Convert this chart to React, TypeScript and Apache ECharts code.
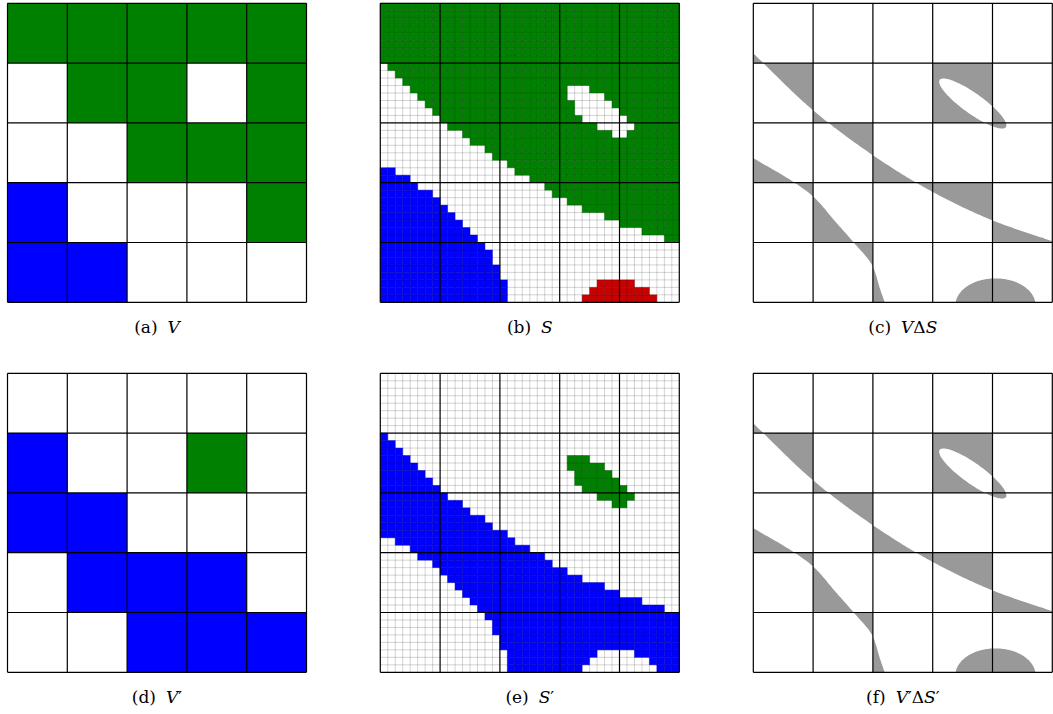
import { useEffect, useRef } from "react";
import * as echarts from "echarts";

// ---------- data ----------
// coarse 5x5 classification V (g green, w white, h hole cell, b blue)
const coarseRows = ["ggggg", "wgghg", "wwggg", "bwwwg", "bbwww"];

// fine 40x40 classification S (read row by row)
const greenStartByRow = [
  0, 0, 0, 0, 0, 0, 0, 0, 1, 2, 3, 4, 5, 6, 7, 8, 9, 11, 12, 14,
  15, 17, 18, 20, 22, 23, 25, 27, 30, 32, 35, 38, 40, 40, 40, 40, 40, 40, 40, 40,
];
const blueEndByRow = [
  0, 0, 0, 0, 0, 0, 0, 0, 0, 0, 0, 0, 0, 0, 0, 0, 0, 0, 0, 0,
  0, 0, 2, 4, 5, 7, 8, 9, 10, 11, 12, 13, 14, 15, 15, 16, 16, 17, 17, 17,
];
// [row, firstCol, lastCol]
const holeRuns = [
  [11, 25, 27], [12, 25, 29], [13, 26, 30], [14, 26, 31], [15, 27, 32], [16, 29, 33], [17, 31, 32],
];
const redRuns = [
  [37, 29, 33], [38, 28, 35], [39, 27, 36],
];

// continuous shapes (in coarse-cell units, u right, v down)
const greenEdge = [[0, 0.838], [1, 1.79], [2, 2.54], [3, 3.155], [4, 3.63], [5, 3.978]];
const blueEdge = [[0, 2.59], [0.675, 2.99], [1.0, 3.23], [1.371, 3.65], [1.679, 4.0], [1.997, 4.4], [2.124, 4.79], [2.197, 5.0]];
const holeShape = { cx: 3.67, cy: 1.676, rx: 0.68, ry: 0.17, deg: 35.5 };
const redShape = { cx: 4.05, cy: 5.05, rx: 0.67, ry: 0.45, deg: 0 };

const mapA: Record<string, string> = { g: "#008000", w: "#ffffff", h: "#ffffff", b: "#0000ff", r: "#c80000" };
const mapB: Record<string, string> = { g: "#ffffff", w: "#0000ff", h: "#008000", b: "#ffffff", r: "#ffffff" };
const GRAY = "#999999";

const panelLabels = [
  "(a){f|V}",
  "(b){f|S}",
  "(c){f|V}Δ{i|S}",
  "(d){f|V}′",
  "(e){f|S}′",
  "(f){f|V}′Δ{i|S}′",
];

// ---------- helpers ----------
type P = [number, number];

function monotone(xs: number[], ys: number[]) {
  const n = xs.length;
  const h: number[] = [], d: number[] = [], m: number[] = [];
  for (let i = 0; i < n - 1; i++) {
    h[i] = xs[i + 1] - xs[i];
    d[i] = (ys[i + 1] - ys[i]) / h[i];
  }
  m[0] = d[0];
  m[n - 1] = d[n - 2];
  for (let i = 1; i < n - 1; i++) {
    if (d[i - 1] * d[i] <= 0) m[i] = 0;
    else {
      const w1 = 2 * h[i] + h[i - 1], w2 = h[i] + 2 * h[i - 1];
      m[i] = (w1 + w2) / (w1 / d[i - 1] + w2 / d[i]);
    }
  }
  return (x: number) => {
    let i = 0;
    while (i < n - 2 && x > xs[i + 1]) i++;
    const t = (x - xs[i]) / h[i];
    const t2 = t * t, t3 = t2 * t;
    return (2 * t3 - 3 * t2 + 1) * ys[i] + (t3 - 2 * t2 + t) * h[i] * m[i] +
      (-2 * t3 + 3 * t2) * ys[i + 1] + (t3 - t2) * h[i] * m[i + 1];
  };
}

function ellipsePoly(e: { cx: number; cy: number; rx: number; ry: number; deg: number }): P[] {
  const th = (e.deg * Math.PI) / 180;
  const out: P[] = [];
  for (let k = 0; k < 160; k++) {
    const t = (k / 160) * Math.PI * 2;
    const a = e.rx * Math.cos(t), b = e.ry * Math.sin(t);
    out.push([e.cx + a * Math.cos(th) - b * Math.sin(th), e.cy + a * Math.sin(th) + b * Math.cos(th)]);
  }
  return out;
}

function clipRect(poly: P[], x0: number, y0: number, x1: number, y1: number): P[] {
  const clips: [(p: P) => boolean, (a: P, b: P) => P][] = [
    [(p) => p[0] >= x0, (a, b) => { const t = (x0 - a[0]) / (b[0] - a[0]); return [x0, a[1] + t * (b[1] - a[1])]; }],
    [(p) => p[0] <= x1, (a, b) => { const t = (x1 - a[0]) / (b[0] - a[0]); return [x1, a[1] + t * (b[1] - a[1])]; }],
    [(p) => p[1] >= y0, (a, b) => { const t = (y0 - a[1]) / (b[1] - a[1]); return [a[0] + t * (b[0] - a[0]), y0]; }],
    [(p) => p[1] <= y1, (a, b) => { const t = (y1 - a[1]) / (b[1] - a[1]); return [a[0] + t * (b[0] - a[0]), y1]; }],
  ];
  let out = poly;
  for (const [inside, inter] of clips) {
    const input = out;
    out = [];
    if (!input.length) break;
    for (let i = 0; i < input.length; i++) {
      const cur = input[i], prev = input[(i + input.length - 1) % input.length];
      const ci = inside(cur), pi = inside(prev);
      if (ci) {
        if (!pi) out.push(inter(prev, cur));
        out.push(cur);
      } else if (pi) out.push(inter(prev, cur));
    }
  }
  return out;
}

// ---------- derived structures ----------
const FINE = 40;
const fineLabels: string[][] = [];
for (let r = 0; r < FINE; r++) {
  const row: string[] = [];
  for (let c = 0; c < FINE; c++) {
    let l = "w";
    if (c >= greenStartByRow[r]) l = "g";
    else if (c < blueEndByRow[r]) l = "b";
    row.push(l);
  }
  fineLabels.push(row);
}
holeRuns.forEach(([r, a, b]) => { for (let c = a; c <= b; c++) fineLabels[r][c] = "h"; });
redRuns.forEach(([r, a, b]) => { for (let c = a; c <= b; c++) fineLabels[r][c] = "r"; });

const greenF = monotone(greenEdge.map((p) => p[0]), greenEdge.map((p) => p[1]));
const blueF = monotone(blueEdge.map((p) => p[1]), blueEdge.map((p) => p[0]));

const greenPoly: P[] = [];
for (let k = 0; k <= 200; k++) {
  const u = (k / 200) * 5;
  greenPoly.push([u, greenF(u)]);
}
greenPoly.push([5, -0.1], [0, -0.1]);

const bluePoly: P[] = [];
const vb0 = blueEdge[0][1], vb1 = blueEdge[blueEdge.length - 1][1];
for (let k = 0; k <= 200; k++) {
  const v = vb0 + ((vb1 - vb0) * k) / 200;
  bluePoly.push([blueF(v), v]);
}
bluePoly.push([blueEdge[blueEdge.length - 1][0], 5.1], [-0.1, 5.1], [-0.1, vb0]);

const layers: { label: string; poly: P[] }[] = [
  { label: "w", poly: [[-0.1, -0.1], [5.1, -0.1], [5.1, 5.1], [-0.1, 5.1]] },
  { label: "g", poly: greenPoly },
  { label: "h", poly: ellipsePoly(holeShape) },
  { label: "b", poly: bluePoly },
  { label: "r", poly: ellipsePoly(redShape) },
];

const coarseData: number[][] = [];
for (let r = 0; r < 5; r++) for (let c = 0; c < 5; c++) coarseData.push([c, r]);
const fineData: number[][] = [];
for (let r = 0; r < FINE; r++) for (let c = 0; c < FINE; c++) fineData.push([c, r]);

const coarseLines: number[][] = [];
for (let k = 0; k <= 5; k++) { coarseLines.push([0, k, 0]); coarseLines.push([1, k, 0]); }
const fineLines: number[][] = [];
for (let k = 0; k <= FINE; k++) {
  if (k % 8 === 0) continue;
  fineLines.push([0, k / 8, 1]);
  fineLines.push([1, k / 8, 1]);
}

// ---------- layout ----------
const PANEL = 299;
const COLS_X = [7.5, 380.3, 753.3];
const ROWS_Y = [3.3, 373.3];
const LABEL_Y = [327, 697];

function buildOption() {
  const grids: any[] = [], xAxes: any[] = [], yAxes: any[] = [], series: any[] = [], graphics: any[] = [];
  for (let i = 0; i < 6; i++) {
    const col = i % 3, row = Math.floor(i / 3);
    const map = row === 0 ? mapA : mapB;
    grids.push({ left: COLS_X[col], top: ROWS_Y[row], width: PANEL, height: PANEL });
    xAxes.push({ type: "value", gridIndex: i, min: 0, max: 5, show: false });
    yAxes.push({ type: "value", gridIndex: i, min: 0, max: 5, inverse: true, show: false });
    const base = { type: "custom", xAxisIndex: i, yAxisIndex: i, silent: true, clip: false };

    if (col === 0) {
      series.push({
        ...base, z: 2, data: coarseData,
        renderItem: (_p: any, api: any) => {
          const c = api.value(0), r = api.value(1);
          const fill = map[coarseRows[r][c]];
          const a = api.coord([c, r]), b = api.coord([c + 1, r + 1]);
          return { type: "rect", shape: { x: a[0], y: a[1], width: b[0] - a[0], height: b[1] - a[1] }, style: { fill } };
        },
      });
    } else if (col === 1) {
      series.push({
        ...base, z: 2, data: fineData,
        renderItem: (_p: any, api: any) => {
          const c = api.value(0), r = api.value(1);
          const fill = map[fineLabels[r][c]];
          if (fill === "#ffffff") return null;
          const a = api.coord([c / 8, r / 8]), b = api.coord([(c + 1) / 8, (r + 1) / 8]);
          return { type: "rect", shape: { x: a[0], y: a[1], width: b[0] - a[0], height: b[1] - a[1] }, style: { fill, stroke: fill, lineWidth: 0.4 } };
        },
      });
    } else {
      series.push({
        ...base, z: 2, data: coarseData,
        renderItem: (_p: any, api: any) => {
          const c = api.value(0), r = api.value(1);
          const cellColor = map[coarseRows[r][c]];
          const children: any[] = [];
          layers.forEach((ly) => {
            const clipped = clipRect(ly.poly, c, r, c + 1, r + 1);
            if (clipped.length < 3) return;
            const fill = map[ly.label] === cellColor ? "#ffffff" : GRAY;
            children.push({ type: "polygon", shape: { points: clipped.map((p) => api.coord(p)) }, style: { fill } });
          });
          return { type: "group", children };
        },
      });
    }
    const lines = col === 1 ? [...fineLines, ...coarseLines] : coarseLines;
    series.push({
      ...base, z: 5, data: lines,
      renderItem: (_p: any, api: any) => {
        const dir = api.value(0), pos = api.value(1), kind = api.value(2);
        const a = api.coord(dir === 0 ? [pos, 0] : [0, pos]);
        const b = api.coord(dir === 0 ? [pos, 5] : [5, pos]);
        return {
          type: "line",
          shape: { x1: a[0], y1: a[1], x2: b[0], y2: b[1] },
          style: kind === 1 ? { stroke: "rgba(0,0,0,0.22)", lineWidth: 0.8 } : { stroke: "#000000", lineWidth: 1.2 },
        };
      },
    });
    const font = "DejaVu Serif";
    graphics.push({
      type: "text",
      x: COLS_X[col] + PANEL / 2,
      y: LABEL_Y[row],
      style: {
        text: panelLabels[i],
        fontFamily: font,
        fontSize: 17,
        fill: "#000",
        align: "center",
        verticalAlign: "middle",
        rich: {
          f: { fontFamily: font, fontSize: 17, fontStyle: "italic", padding: [0, 0, 0, 10] },
          i: { fontFamily: font, fontSize: 17, fontStyle: "italic" },
        },
      },
    });
  }
  return { animation: false, backgroundColor: "#ffffff", grid: grids, xAxis: xAxes, yAxis: yAxes, series, graphic: graphics };
}

export default function App() {
  const ref = useRef<HTMLDivElement>(null);
  useEffect(() => {
    if (!ref.current) return;
    const chart = echarts.init(ref.current, undefined, { renderer: "svg" });
    chart.setOption(buildOption() as any);
    return () => chart.dispose();
  }, []);
  return <div ref={ref} style={{ position: "fixed", left: 0, top: 0, width: 1053, height: 714, background: "#fff" }} />;
}
